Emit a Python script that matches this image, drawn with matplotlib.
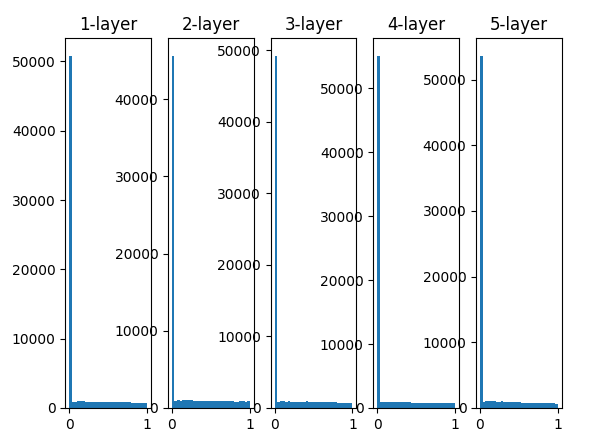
import numpy as np
import matplotlib
matplotlib.use("Agg")
import matplotlib.pyplot as plt

# 30 bins over [0, 1], counts
bin_edges = np.linspace(0, 1, 31)
titles = ["1-layer", "2-layer", "3-layer", "4-layer", "5-layer"]

layer1 = [50800, 790, 800, 1050, 1040, 1000, 900, 880, 880, 870,
          870, 860, 860, 860, 850, 850, 850, 850, 840, 840,
          840, 830, 830, 820, 700, 690, 690, 680, 680, 670]
layer2 = [45600, 950, 960, 950, 1050, 960, 1040, 960, 950, 950,
          950, 950, 950, 950, 950, 950, 940, 940, 940, 940,
          940, 940, 940, 940, 800, 800, 950, 940, 800, 940]
layer3 = [49200, 800, 1000, 1000, 800, 1000, 800, 800, 800, 800,
          800, 800, 1000, 800, 800, 800, 800, 800, 800, 800,
          800, 800, 800, 800, 680, 660, 660, 650, 650, 650]
layer4 = [55100, 940, 940, 940, 940, 940, 940, 940, 940, 940,
          940, 940, 940, 730, 730, 730, 730, 730, 730, 730,
          730, 730, 730, 800, 730, 800, 730, 730, 730, 730]
layer5 = [53600, 900, 1000, 1000, 1000, 1000, 900, 900, 1000, 900,
          900, 900, 900, 900, 900, 900, 800, 800, 800, 800,
          800, 800, 800, 800, 800, 720, 800, 800, 720, 620]

layers = [layer1, layer2, layer3, layer4, layer5]

fig = plt.figure(figsize=(5.92, 4.44), dpi=100)
fig.subplots_adjust(left=0.1103, right=0.9488, bottom=0.0813, top=0.9137, wspace=0.2)

for i, counts in enumerate(layers):
    ax = fig.add_subplot(1, len(layers), i + 1)
    ax.set_title(titles[i])
    ax.hist(bin_edges[:-1], bins=bin_edges, weights=counts)

fig.savefig("out.png", dpi=100)
